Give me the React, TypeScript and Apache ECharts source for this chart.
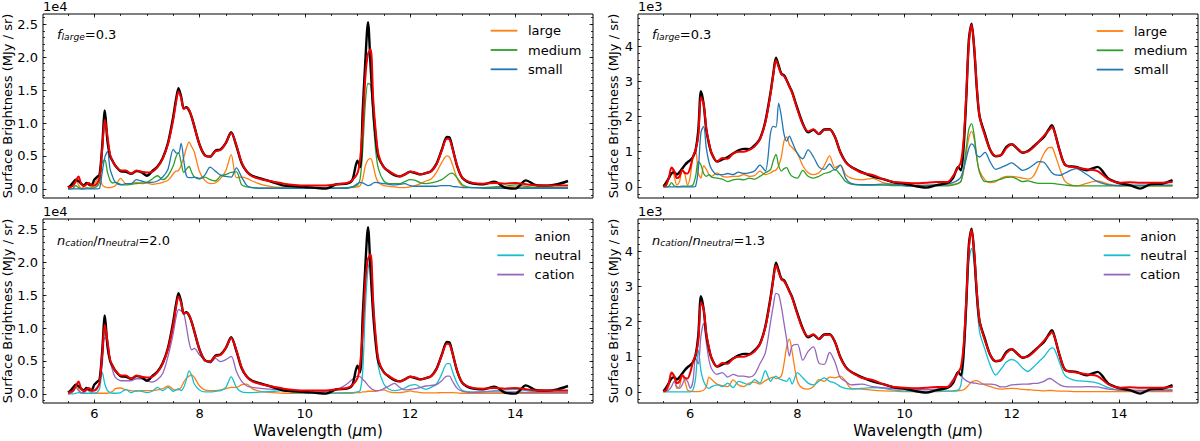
import React, { useEffect, useRef } from "react";
import * as echarts from "echarts";

const FONT = "DejaVu Sans";

// Wavelength sampling (μm) shared by every spectrum
const wavelength = [
  5.5, 5.55, 5.6, 5.65, 5.7, 5.75, 5.8, 5.85, 5.9, 5.95,
  6.0, 6.05, 6.1, 6.15, 6.2, 6.25, 6.3, 6.35, 6.4,
  6.5, 6.6, 6.7, 6.8, 6.9, 7.0, 7.1, 7.2, 7.3, 7.4,
  7.5, 7.55, 7.6, 7.65, 7.7, 7.75, 7.8, 7.85, 7.9,
  8.0, 8.1, 8.2, 8.3, 8.4, 8.5, 8.6, 8.7, 8.8, 8.9, 9.0,
  9.2, 9.4, 9.6, 9.8, 10.0, 10.2, 10.4, 10.6, 10.8,
  10.9, 11.0, 11.05, 11.1, 11.15, 11.2, 11.25, 11.3, 11.35, 11.4,
  11.5, 11.6, 11.7, 11.8, 11.9, 12.0, 12.1, 12.2, 12.3, 12.4,
  12.5, 12.6, 12.7, 12.75, 12.8, 12.9, 13.0,
  13.2, 13.4, 13.6, 13.8, 14.0, 14.2, 14.4, 14.6, 14.8, 15.0,
];

// ---- Left column: surface brightness in units of 1e4 MJy/sr ----
const observedA = [
  0.02, 0.05, 0.10, 0.14, 0.12, 0.08, 0.05, 0.09, 0.07, 0.06,
  0.14, 0.18, 0.22, 0.65, 1.19, 0.72, 0.50, 0.42, 0.35,
  0.27, 0.26, 0.23, 0.27, 0.25, 0.20, 0.27, 0.34, 0.47, 0.70,
  1.10, 1.35, 1.53, 1.40, 1.22, 1.24, 1.19, 1.09, 0.95,
  0.67, 0.51, 0.49, 0.58, 0.60, 0.70, 0.86, 0.65, 0.39, 0.26, 0.20,
  0.15, 0.10, 0.05, 0.04, 0.03, 0.015, 0.005, 0.07, 0.08,
  0.13, 0.43, 0.33, 1.19, 1.95, 2.53, 1.85, 1.20, 0.75, 0.48,
  0.33, 0.26, 0.21, 0.19, 0.22, 0.26, 0.24, 0.22, 0.24, 0.27,
  0.38, 0.59, 0.79, 0.78, 0.64, 0.33, 0.16,
  0.08, 0.07, 0.11, 0.02, 0.005, 0.13, 0.055, 0.05, 0.07, 0.12,
];
const modelA = [
  0.02, 0.03, 0.05, 0.12, 0.19, 0.08, 0.04, 0.07, 0.09, 0.05,
  0.05, 0.08, 0.17, 0.60, 1.05, 0.80, 0.52, 0.42, 0.35,
  0.28, 0.28, 0.23, 0.28, 0.26, 0.25, 0.26, 0.33, 0.46, 0.68,
  1.05, 1.30, 1.48, 1.38, 1.22, 1.23, 1.20, 1.09, 0.95,
  0.67, 0.51, 0.49, 0.57, 0.59, 0.70, 0.85, 0.66, 0.40, 0.26, 0.19,
  0.14, 0.11, 0.08, 0.06, 0.05, 0.05, 0.05, 0.07, 0.09,
  0.13, 0.24, 0.45, 0.95, 1.70, 2.05, 2.12, 1.35, 0.85, 0.52,
  0.33, 0.27, 0.22, 0.19, 0.22, 0.26, 0.25, 0.22, 0.24, 0.27,
  0.37, 0.58, 0.76, 0.75, 0.63, 0.34, 0.16,
  0.09, 0.08, 0.09, 0.08, 0.09, 0.07, 0.05, 0.05, 0.05, 0.05,
];
const largeA = [
  0.00, 0.02, 0.08, 0.13, 0.06, 0.01, 0.03, 0.09, 0.05, 0.02,
  0.07, 0.14, 0.18, 0.06, 0.03, 0.02, 0.02, 0.03, 0.05,
  0.16, 0.08, 0.08, 0.10, 0.08, 0.09, 0.07, 0.08, 0.10, 0.13,
  0.23, 0.27, 0.28, 0.36, 0.48, 0.62, 0.71, 0.64, 0.56,
  0.26, 0.13, 0.08, 0.09, 0.16, 0.28, 0.52, 0.17, 0.18, 0.16, 0.12,
  0.06, 0.03, 0.02, 0.01, 0.01, 0.01, 0.01, 0.01, 0.02,
  0.02, 0.03, 0.05, 0.15, 0.35, 0.44, 0.46, 0.35, 0.18, 0.10,
  0.05, 0.04, 0.03, 0.02, 0.02, 0.03, 0.05, 0.08, 0.12, 0.15,
  0.25, 0.40, 0.50, 0.48, 0.38, 0.15, 0.04,
  0.02, 0.02, 0.02, 0.03, 0.03, 0.02, 0.02, 0.02, 0.02, 0.02,
];
const mediumA = [
  0.00, 0.00, 0.01, 0.05, 0.02, 0.00, 0.00, 0.02, 0.01, 0.01,
  0.02, 0.04, 0.10, 0.40, 0.44, 0.25, 0.13, 0.09, 0.10,
  0.07, 0.06, 0.07, 0.08, 0.09, 0.10, 0.15, 0.20, 0.14, 0.20,
  0.35, 0.48, 0.55, 0.40, 0.25, 0.30, 0.34, 0.25, 0.18,
  0.15, 0.18, 0.14, 0.12, 0.20, 0.22, 0.25, 0.26, 0.06, 0.03, 0.02,
  0.01, 0.01, 0.01, 0.01, 0.01, 0.01, 0.01, 0.01, 0.02,
  0.03, 0.06, 0.15, 0.60, 1.30, 1.60, 1.58, 1.05, 0.55, 0.30,
  0.12, 0.08, 0.08, 0.08, 0.11, 0.14, 0.13, 0.09, 0.08, 0.09,
  0.11, 0.14, 0.20, 0.23, 0.24, 0.16, 0.06,
  0.02, 0.02, 0.03, 0.04, 0.06, 0.04, 0.02, 0.02, 0.02, 0.02,
];
const smallA = [
  0, 0, 0, 0, 0, 0, 0, 0, 0, 0,
  0.00, 0.00, 0.01, 0.25, 0.48, 0.57, 0.30, 0.18, 0.10,
  0.06, 0.08, 0.08, 0.14, 0.12, 0.10, 0.10, 0.12, 0.18, 0.30,
  0.60, 0.55, 0.54, 0.69, 0.43, 0.20, 0.17, 0.17, 0.18,
  0.16, 0.21, 0.33, 0.27, 0.21, 0.19, 0.18, 0.32, 0.18, 0.05, 0.02,
  0.01, 0.01, 0.01, 0.01, 0.01, 0.01, 0.01, 0.01, 0.01,
  0.03, 0.08, 0.10, 0.09, 0.07, 0.05, 0.06, 0.09, 0.10, 0.09,
  0.08, 0.07, 0.06, 0.07, 0.08, 0.05, 0.04, 0.04, 0.04, 0.04,
  0.04, 0.05, 0.05, 0.05, 0.04, 0.03, 0.02,
  0.02, 0.01, 0.01, 0.01, 0.01, 0.01, 0.01, 0.01, 0.01, 0.01,
];
const anionA = [
  0.00, 0.02, 0.08, 0.15, 0.08, 0.02, 0.03, 0.08, 0.04, 0.02,
  0.01, 0.01, 0.01, 0.01, 0.01, 0.01, 0.02, 0.04, 0.08,
  0.09, 0.06, 0.05, 0.04, 0.05, 0.05, 0.05, 0.06, 0.08, 0.12,
  0.07, 0.06, 0.06, 0.10, 0.18, 0.24, 0.27, 0.29, 0.25,
  0.12, 0.06, 0.05, 0.05, 0.06, 0.08, 0.10, 0.10, 0.14, 0.15, 0.08,
  0.03, 0.02, 0.01, 0.01, 0.01, 0.01, 0.01, 0.01, 0.01,
  0.01, 0.02, 0.02, 0.03, 0.03, 0.04, 0.04, 0.04, 0.04, 0.05,
  0.06, 0.03, 0.02, 0.02, 0.03, 0.045, 0.03, 0.02, 0.015, 0.015,
  0.015, 0.02, 0.02, 0.02, 0.02, 0.015, 0.01,
  0.01, 0.01, 0.01, 0.01, 0.01, 0.01, 0.01, 0.01, 0.01, 0.01,
];
const neutralA = [
  0.00, 0.00, 0.00, 0.01, 0.02, 0.01, 0.01, 0.01, 0.01, 0.01,
  0.01, 0.02, 0.08, 0.33, 0.15, 0.05, 0.02, 0.01, 0.01,
  0.02, 0.07, 0.02, 0.05, 0.04, 0.02, 0.04, 0.10, 0.05, 0.10,
  0.04, 0.06, 0.08, 0.05, 0.10, 0.22, 0.35, 0.28, 0.15,
  0.06, 0.03, 0.03, 0.04, 0.05, 0.10, 0.26, 0.10, 0.03, 0.02, 0.02,
  0.03, 0.04, 0.05, 0.02, 0.015, 0.01, 0.01, 0.015, 0.02,
  0.02, 0.03, 0.05, 0.35, 1.30, 1.90, 2.03, 1.50, 0.80, 0.40,
  0.15, 0.07, 0.05, 0.06, 0.09, 0.13, 0.14, 0.10, 0.07, 0.10,
  0.15, 0.30, 0.46, 0.46, 0.35, 0.15, 0.05,
  0.03, 0.03, 0.05, 0.06, 0.07, 0.05, 0.03, 0.03, 0.03, 0.03,
];
const cationA = [
  0.00, 0.01, 0.04, 0.10, 0.05, 0.02, 0.02, 0.05, 0.06, 0.03,
  0.06, 0.10, 0.15, 0.45, 0.85, 0.82, 0.50, 0.35, 0.25,
  0.20, 0.20, 0.20, 0.23, 0.23, 0.20, 0.18, 0.22, 0.31, 0.57,
  0.92, 1.15, 1.28, 1.26, 1.22, 1.02, 0.79, 0.67, 0.69,
  0.59, 0.52, 0.47, 0.54, 0.49, 0.52, 0.57, 0.34, 0.19, 0.12, 0.10,
  0.08, 0.07, 0.06, 0.05, 0.04, 0.03, 0.04, 0.06, 0.15,
  0.22, 0.27, 0.26, 0.22, 0.18, 0.13, 0.09, 0.06, 0.05, 0.05,
  0.08, 0.12, 0.16, 0.10, 0.06, 0.07, 0.08, 0.10, 0.12, 0.13,
  0.14, 0.20, 0.27, 0.27, 0.20, 0.08, 0.04,
  0.02, 0.03, 0.03, 0.03, 0.03, 0.02, 0.02, 0.02, 0.02, 0.02,
];

// ---- Right column: surface brightness in units of 1e3 MJy/sr ----
const observedB = [
  0.02, 0.12, 0.25, 0.38, 0.42, 0.35, 0.42, 0.52, 0.62, 0.70,
  0.76, 0.85, 1.05, 1.60, 2.72, 2.35, 1.62, 1.22, 0.95,
  0.72, 0.78, 0.85, 0.95, 1.04, 1.08, 1.07, 1.18, 1.37, 1.85,
  2.70, 3.22, 3.67, 3.45, 3.22, 3.17, 3.03, 2.86, 2.70,
  2.23, 1.80, 1.55, 1.62, 1.50, 1.63, 1.64, 1.42, 0.99, 0.71, 0.57,
  0.42, 0.30, 0.22, 0.13, 0.09, 0.02, -0.02, 0.05, 0.11,
  0.24, 0.57, 0.47, 1.10, 2.50, 4.20, 4.64, 3.90, 2.75, 2.00,
  1.50, 1.04, 0.87, 0.90, 1.14, 1.21, 1.09, 0.97, 1.02, 1.14,
  1.28, 1.42, 1.66, 1.75, 1.56, 1.00, 0.62,
  0.57, 0.47, 0.57, 0.24, 0.11, 0.05, -0.05, 0.08, 0.09, 0.19,
];
const modelB = [
  0.02, 0.05, 0.25, 0.55, 0.45, 0.25, 0.30, 0.48, 0.40, 0.38,
  0.55, 0.85, 1.05, 1.45, 2.55, 2.35, 1.65, 1.25, 0.95,
  0.72, 0.82, 0.80, 0.95, 1.00, 1.00, 1.05, 1.15, 1.35, 1.82,
  2.65, 3.20, 3.60, 3.40, 3.20, 3.15, 3.02, 2.85, 2.68,
  2.20, 1.78, 1.58, 1.64, 1.50, 1.62, 1.63, 1.42, 0.98, 0.70, 0.57,
  0.40, 0.34, 0.22, 0.14, 0.12, 0.10, 0.12, 0.14, 0.14,
  0.30, 0.55, 0.70, 1.30, 2.60, 4.10, 4.60, 3.95, 2.80, 2.00,
  1.45, 1.05, 0.88, 0.90, 1.10, 1.22, 1.10, 0.98, 1.00, 1.12,
  1.28, 1.45, 1.62, 1.70, 1.55, 1.00, 0.62,
  0.55, 0.50, 0.45, 0.22, 0.12, 0.13, 0.12, 0.12, 0.12, 0.14,
];
const largeB = [
  0.00, 0.02, 0.25, 0.55, 0.30, 0.05, 0.15, 0.47, 0.35, 0.05,
  0.30, 0.85, 1.05, 0.40, 0.25, 0.60, 0.50, 0.35, 0.30,
  0.40, 0.30, 0.28, 0.30, 0.30, 0.35, 0.30, 0.32, 0.45, 0.35,
  0.40, 0.45, 0.48, 0.60, 0.85, 1.30, 1.42, 1.20, 1.12,
  0.95, 0.60, 0.40, 0.35, 0.40, 0.60, 0.88, 0.55, 0.62, 0.35, 0.25,
  0.20, 0.24, 0.12, 0.06, 0.05, 0.05, 0.05, 0.05, 0.05,
  0.07, 0.10, 0.15, 0.45, 0.95, 1.40, 1.58, 1.35, 0.80, 0.45,
  0.20, 0.12, 0.15, 0.25, 0.30, 0.30, 0.28, 0.25, 0.22, 0.30,
  0.60, 0.95, 1.12, 1.12, 0.95, 0.50, 0.15,
  0.03, 0.10, 0.17, 0.08, 0.03, 0.03, 0.03, 0.03, 0.03, 0.03,
];
const mediumB = [
  0.00, 0.00, 0.02, 0.12, 0.03, 0.01, 0.01, 0.02, 0.02, 0.02,
  0.02, 0.05, 0.30, 0.72, 0.62, 0.38, 0.30, 0.35, 0.28,
  0.25, 0.22, 0.15, 0.20, 0.22, 0.20, 0.25, 0.22, 0.30, 0.40,
  0.50, 0.75, 0.92, 0.60, 0.45, 0.52, 0.55, 0.40, 0.30,
  0.25, 0.47, 0.30, 0.25, 0.30, 0.38, 0.42, 0.50, 0.35, 0.15, 0.08,
  0.05, 0.05, 0.05, 0.04, 0.04, 0.03, 0.03, 0.03, 0.03,
  0.05, 0.10, 0.15, 0.50, 1.10, 1.65, 1.80, 1.45, 0.80, 0.40,
  0.15, 0.15, 0.18, 0.22, 0.27, 0.28, 0.22, 0.15, 0.17, 0.13,
  0.10, 0.10, 0.10, 0.10, 0.09, 0.07, 0.05,
  0.03, 0.03, 0.03, 0.03, 0.03, 0.03, 0.03, 0.03, 0.03, 0.03,
];
const smallB = [
  0, 0, 0, 0, 0, 0, 0, 0, 0, 0,
  0.00, 0.00, 0.02, 0.50, 1.55, 1.72, 1.10, 0.70, 0.50,
  0.35, 0.35, 0.38, 0.35, 0.42, 0.38, 0.40, 0.45, 0.62, 0.45,
  1.55, 1.72, 1.70, 2.38, 2.00, 1.50, 1.30, 1.44, 1.28,
  0.95, 0.80, 1.05, 0.85, 0.57, 0.50, 0.65, 0.48, 0.62, 0.25, 0.10,
  0.06, 0.06, 0.08, 0.08, 0.03, 0.02, 0.04, 0.06, 0.08,
  0.12, 0.20, 0.28, 0.50, 0.80, 1.10, 1.22, 1.15, 0.90, 0.85,
  0.98, 0.70, 0.50, 0.55, 0.62, 0.68, 0.58, 0.47, 0.52, 0.62,
  0.72, 0.70, 0.50, 0.40, 0.35, 0.33, 0.40,
  0.52, 0.35, 0.15, 0.06, 0.04, 0.05, 0.05, 0.05, 0.05, 0.05,
];
const anionB = [
  0.00, 0.02, 0.15, 0.50, 0.45, 0.10, 0.15, 0.45, 0.30, 0.05,
  0.02, 0.01, 0.01, 0.01, 0.02, 0.05, 0.15, 0.42, 0.35,
  0.22, 0.18, 0.15, 0.34, 0.20, 0.15, 0.25, 0.28, 0.22, 0.32,
  0.40, 0.42, 0.38, 0.40, 0.45, 0.80, 1.29, 1.50, 1.15,
  0.30, 0.10, 0.08, 0.15, 0.35, 0.30, 0.42, 0.40, 0.45, 0.30, 0.10,
  0.08, 0.05, 0.03, 0.02, 0.01, 0.01, 0.01, 0.01, 0.02,
  0.02, 0.03, 0.04, 0.06, 0.12, 0.20, 0.28, 0.31, 0.32, 0.28,
  0.20, 0.15, 0.10, 0.08, 0.09, 0.10, 0.09, 0.07, 0.06, 0.05,
  0.04, 0.03, 0.04, 0.04, 0.03, 0.02, 0.02,
  0.01, 0.01, 0.01, 0.01, 0.01, 0.01, 0.01, 0.01, 0.01, 0.01,
];
const neutralB = [
  0, 0, 0, 0, 0, 0, 0, 0, 0, 0,
  0.00, 0.05, 0.40, 1.19, 0.60, 0.30, 0.15, 0.10, 0.15,
  0.20, 0.15, 0.25, 0.12, 0.30, 0.25, 0.20, 0.35, 0.25, 0.60,
  0.30, 0.40, 0.45, 0.38, 0.35, 0.32, 0.30, 0.40, 0.22,
  0.55, 0.40, 0.25, 0.20, 0.30, 0.40, 0.30, 0.25, 0.15, 0.10, 0.08,
  0.10, 0.12, 0.10, 0.05, 0.02, 0.01, 0.01, 0.02, 0.02,
  0.03, 0.05, 0.20, 0.80, 2.20, 3.70, 4.08, 3.60, 2.50, 1.70,
  1.20, 0.75, 0.48, 0.65, 0.85, 0.92, 0.85, 0.68, 0.58, 0.70,
  0.85, 1.00, 1.20, 1.25, 1.20, 0.80, 0.45,
  0.32, 0.30, 0.25, 0.12, 0.05, 0.04, 0.04, 0.04, 0.05, 0.06,
];
const cationB = [
  0.00, 0.02, 0.05, 0.15, 0.30, 0.15, 0.10, 0.20, 0.35, 0.30,
  0.10, 0.30, 0.95, 0.80, 1.60, 1.95, 1.40, 0.90, 0.65,
  0.50, 0.55, 0.42, 0.50, 0.45, 0.45, 0.42, 0.50, 0.80, 1.10,
  2.00, 2.45, 2.80, 2.76, 2.42, 1.95, 1.48, 1.02, 1.30,
  1.35, 0.90, 1.15, 1.28, 0.82, 0.78, 1.12, 0.85, 0.40, 0.30, 0.20,
  0.22, 0.15, 0.12, 0.09, 0.07, 0.06, 0.06, 0.08, 0.15,
  0.35, 0.53, 0.48, 0.38, 0.32, 0.28, 0.26, 0.25, 0.24, 0.22,
  0.22, 0.22, 0.20, 0.14, 0.15, 0.20, 0.21, 0.22, 0.22, 0.24,
  0.25, 0.30, 0.38, 0.36, 0.30, 0.20, 0.15,
  0.14, 0.15, 0.14, 0.08, 0.05, 0.04, 0.04, 0.04, 0.04, 0.04,
];

// Axis ticks and labels
const xMajorTicks = [6, 8, 10, 12, 14];
const yMajorTicksA = [0, 0.5, 1.0, 1.5, 2.0, 2.5];
const yMajorTicksB = [0, 1, 2, 3, 4];
const sizeNames = ["large", "medium", "small"];
const chargeNames = ["anion", "neutral", "cation"];
const ratioLabelsA = { size: "0.3", charge: "2.0" };
const ratioLabelsB = { size: "0.3", charge: "1.3" };

function steps(start: number, stop: number, step: number): number[] {
  const n = Math.round((stop - start) / step);
  return Array.from({ length: n + 1 }, (_, i) => Number((start + i * step).toFixed(4)));
}
const xMinorTicks = steps(5.5, 15, 0.5);
const yMinorTicksA = steps(-0.1, 2.6, 0.1);
const yMinorTicksB = steps(-0.2, 4.8, 0.2);

const X_RANGE = [5.025, 15.475];
const Y_RANGE_A = [-0.138, 2.655];
const Y_RANGE_B = [-0.316, 4.914];

const COLORS = {
  observed: "#000000",
  model: "#f00000",
  large: "#ff7f0e",
  medium: "#2ca02c",
  small: "#1f77b4",
  anion: "#ff7f0e",
  neutral: "#17becf",
  cation: "#9467bd",
};

const layout = [
  { left: 43, top: 14, width: 550, height: 184 },
  { left: 638, top: 14, width: 560, height: 184 },
  { left: 43, top: 219, width: 550, height: 184 },
  { left: 638, top: 219, width: 560, height: 184 },
];

const panels = [
  {
    yRange: Y_RANGE_A, yMajor: yMajorTicksA, yMinor: yMinorTicksA, digits: 1, offset: "1e4",
    observed: observedA, model: modelA, parts: [largeA, mediumA, smallA], names: sizeNames,
    note: `{it|f}{sub|large}{rm|=${ratioLabelsA.size}}`,
    legend: { left: 490.7, top: 23.7, gap: 5.7 },
  },
  {
    yRange: Y_RANGE_B, yMajor: yMajorTicksB, yMinor: yMinorTicksB, digits: 0, offset: "1e3",
    observed: observedB, model: modelB, parts: [largeB, mediumB, smallB], names: sizeNames,
    note: `{it|f}{sub|large}{rm|=${ratioLabelsB.size}}`,
    legend: { left: 1096.7, top: 24, gap: 5.7 },
  },
  {
    yRange: Y_RANGE_A, yMajor: yMajorTicksA, yMinor: yMinorTicksA, digits: 1, offset: "1e4",
    observed: observedA, model: modelA, parts: [anionA, neutralA, cationA], names: chargeNames,
    note: `{it|n}{sub|cation}{rm|/}{it|n}{sub|neutral}{rm|=${ratioLabelsA.charge}}`,
    legend: { left: 497.3, top: 229, gap: 5.7 },
  },
  {
    yRange: Y_RANGE_B, yMajor: yMajorTicksB, yMinor: yMinorTicksB, digits: 0, offset: "1e3",
    observed: observedB, model: modelB, parts: [anionB, neutralB, cationB], names: chargeNames,
    note: `{it|n}{sub|cation}{rm|/}{it|n}{sub|neutral}{rm|=${ratioLabelsB.charge}}`,
    legend: { left: 1103.7, top: 229, gap: 5 },
  },
];

const mathRich = {
  it: { fontFamily: FONT, fontStyle: "italic", fontSize: 13, lineHeight: 16, verticalAlign: "bottom", fill: "#000" },
  sub: { fontFamily: FONT, fontStyle: "italic", fontSize: 9.1, lineHeight: 9, verticalAlign: "bottom", fill: "#000" },
  rm: { fontFamily: FONT, fontSize: 13, lineHeight: 16, verticalAlign: "bottom", fill: "#000" },
};

function tickAxis(grid: number, range: number[], position: string, values: number[], length: number, label?: any) {
  return {
    type: "value",
    gridIndex: grid,
    position,
    offset: 0,
    min: range[0],
    max: range[1],
    axisLine: { show: false, onZero: false },
    splitLine: { show: false },
    axisTick: { show: true, inside: true, length, customValues: values, lineStyle: { color: "#000", width: 0.8 } },
    axisLabel: label ? { ...label, customValues: values } : { show: false },
  };
}

function buildOption() {
  const xAxis: any[] = [];
  const yAxis: any[] = [];
  const series: any[] = [];
  const legend: any[] = [];
  const graphic: any[] = [];

  panels.forEach((p, gi) => {
    const bottomRow = gi >= 2;
    xAxis.push(
      tickAxis(gi, X_RANGE, "bottom", xMajorTicks, 3.5,
        bottomRow ? { show: true, margin: 4, fontSize: 13, color: "#000", fontFamily: FONT } : null),
      tickAxis(gi, X_RANGE, "bottom", xMinorTicks, 2),
      tickAxis(gi, X_RANGE, "top", xMajorTicks, 3.5),
      tickAxis(gi, X_RANGE, "top", xMinorTicks, 2),
    );
    yAxis.push(
      tickAxis(gi, p.yRange, "left", p.yMajor, 3.5, {
        show: true, margin: 5, fontSize: 13, color: "#000", fontFamily: FONT,
        formatter: (v: number) => v.toFixed(p.digits),
      }),
      tickAxis(gi, p.yRange, "left", p.yMinor, 2),
      tickAxis(gi, p.yRange, "right", p.yMajor, 3.5),
      tickAxis(gi, p.yRange, "right", p.yMinor, 2),
    );

    const line = (name: string, values: number[], color: string, width: number) => ({
      type: "line",
      name,
      xAxisIndex: gi * 4,
      yAxisIndex: gi * 4,
      data: wavelength.map((w, i) => [w, values[i]]),
      symbol: "none",
      showSymbol: false,
      smooth: 0.3,
      silent: true,
      lineStyle: { color, width },
      itemStyle: { color },
    });

    p.parts.forEach((values, k) => {
      const name = p.names[k];
      series.push(line(name, values, (COLORS as any)[name], 1.3));
    });
    series.push(line(`observed ${gi}`, p.observed, COLORS.observed, 2.4));
    series.push(line(`model ${gi}`, p.model, COLORS.model, 2.0));

    legend.push({
      data: p.names,
      orient: "vertical",
      left: p.legend.left,
      top: p.legend.top,
      padding: 0,
      icon: "rect",
      itemWidth: 26.6,
      itemHeight: 1.8,
      itemGap: 5.3,
      selectedMode: false,
      textStyle: { fontFamily: FONT, fontSize: 13, color: "#000", lineHeight: 14, padding: [0, 0, 0, p.legend.gap] },
    });

    const L = layout[gi];
    graphic.push({
      type: "text",
      x: L.left + 14,
      y: L.top + (bottomRow ? 12 : 11),
      style: { text: p.note, rich: mathRich, align: "left", verticalAlign: "top", fill: "#000" },
    });
    graphic.push({
      type: "text",
      x: L.left,
      y: L.top - 7.5,
      style: { text: p.offset, fontFamily: FONT, fontSize: 13, fill: "#000", align: "left", verticalAlign: "middle" },
    });
    graphic.push({
      type: "text",
      x: gi % 2 === 0 ? 7 : 613,
      y: L.top + L.height / 2,
      rotation: Math.PI / 2,
      style: {
        text: "Surface Brightness (MJy / sr)", fontFamily: FONT, fontSize: 13, fill: "#000",
        align: "center", verticalAlign: "middle",
      },
    });
    if (bottomRow) {
      graphic.push({
        type: "text",
        x: L.left + L.width / 2,
        y: 430.8,
        style: {
          text: "Wavelength ({mu|μ}m)",
          rich: { mu: { fontFamily: FONT, fontStyle: "italic", fontSize: 15, fill: "#000" } },
          fontFamily: FONT, fontSize: 15, fill: "#000", align: "center", verticalAlign: "middle",
        },
      });
    }
  });

  return {
    animation: false,
    backgroundColor: "#ffffff",
    textStyle: { fontFamily: FONT },
    grid: layout.map((L) => ({
      left: L.left, top: L.top, width: L.width, height: L.height,
      show: true, borderColor: "#000", borderWidth: 1, backgroundColor: "transparent",
    })),
    xAxis,
    yAxis,
    legend,
    series,
    graphic,
  };
}

export default function App() {
  const ref = useRef<HTMLDivElement>(null);
  useEffect(() => {
    if (!ref.current) return;
    const chart = echarts.init(ref.current, undefined, { renderer: "svg" });
    chart.setOption(buildOption() as any);
    return () => chart.dispose();
  }, []);
  return (
    <div
      ref={ref}
      style={{ position: "absolute", left: 0, top: 0, width: 1200, height: 441, background: "#fff" }}
    />
  );
}
